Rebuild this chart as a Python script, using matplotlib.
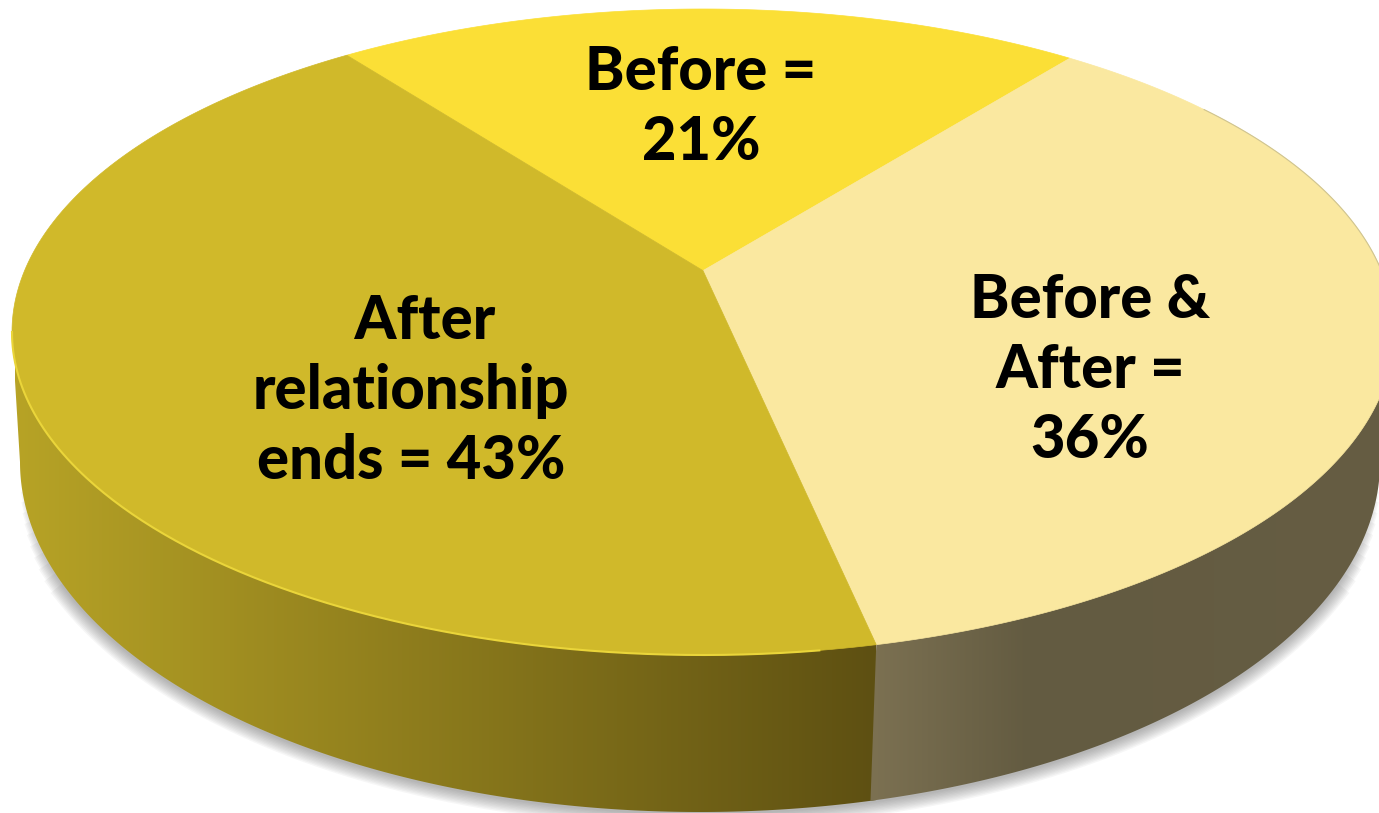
# plot.py
# 3D-looking pie chart, drawn on pixel-sized axes

import numpy as np
import matplotlib
matplotlib.use('Agg')
import matplotlib.pyplot as plt
from matplotlib.colors import LinearSegmentedColormap
from matplotlib.patches import Polygon

# Data
shares = [21, 36, 43]
labels = ['Before =\n21%', 'Before &\nAfter =\n36%', '  After\nrelationship\nends = 43%']
slice_colors = ['#FBDF36', '#FAE8A0', '#D0B92A']

W, H = 1379, 813
START = -37.2  # degrees clockwise from top
TILT = 0.19
TOP = dict(cx=703, cy=332, rx=691, ry=323)
LOW = dict(cx=700, cy=462, rx=680, ry=350)
label_pos = [(701, 107), (1090, 370), (411, 391)]


def project(deg, r, e):
    # unit disc -> ellipse, with the perspective shift of the centre
    t = np.radians(deg)
    u = r * np.sin(t)
    v = r * np.cos(t)
    d = 1 + TILT * v
    x = e['cx'] + e['rx'] * np.sqrt(1 - TILT ** 2) * u / d
    y = e['cy'] - e['ry'] * (v + TILT) / d
    return np.column_stack([x, y])


def gradient_side(ax, poly, x0, x1, stops):
    cmap = LinearSegmentedColormap.from_list('side', stops)
    grad = np.linspace(0, 1, 256).reshape(1, -1)
    im = ax.imshow(grad, cmap=cmap, extent=[x0, x1, H, 0], aspect='auto', zorder=2)
    patch = Polygon(poly, closed=True, transform=ax.transData, fc='none', ec='none')
    ax.add_patch(patch)
    im.set_clip_path(patch)


fig = plt.figure(figsize=(W / 100, H / 100), dpi=100)
ax = fig.add_axes([0, 0, 1, 1])

edges = START + np.cumsum([0] + shares) * 3.6
seam = edges[2]
left_deg = 270 - np.degrees(np.arcsin(TILT))
right_deg = 90 + np.degrees(np.arcsin(TILT))

# Shadow under the side wall, wider strokes stop earlier so the ends fade out
for lw in np.arange(2, 22, 2):
    trim = 3 + lw * 0.9
    low_arc = project(np.linspace(right_deg + trim, left_deg - trim, 300), 1, LOW)
    ax.plot(low_arc[:, 0], low_arc[:, 1] + 1, color='#555555', alpha=0.05, lw=lw, zorder=1)

# Side wall, two visible parts (the right one is painted over the left at the seam)
top_left = project(np.array([left_deg]), 1, TOP)
top_right = project(np.array([right_deg]), 1, TOP)
top_seam = project(np.array([seam]), 1, TOP)
left_arc = project(np.linspace(seam - 1, left_deg, 200), 1, LOW)
right_arc = project(np.linspace(right_deg, seam, 200), 1, LOW)
left_poly = np.vstack([left_arc, top_left, top_seam + [4, 0]])
right_poly = np.vstack([top_right, right_arc, top_seam])
seam_x = right_arc[-1, 0]
gradient_side(ax, left_poly, 15, seam_x + 5, ['#B7A326', '#5E5012'])
gradient_side(ax, right_poly, seam_x, 1400,
              [(0, '#7C7152'), (0.3, '#635B41'), (1, '#665D43')])

# Top of the pie
for i, c in enumerate(slice_colors):
    arc = project(np.linspace(edges[i], edges[i + 1], 200), 1, TOP)
    apex = project(np.array([0.0]), 0, TOP)
    ax.add_patch(Polygon(np.vstack([apex, arc]), closed=True, fc=c, ec=c, lw=0.5, zorder=3))

# Light rim on the front of the darker slice, thin grey edge on the pale one
rim = project(np.linspace(seam + 4, left_deg, 200), 1, TOP)
ax.plot(rim[:, 0], rim[:, 1], color='#EAD53A', lw=1.5, zorder=4)
rim2 = project(np.linspace(55, right_deg - 4, 100), 1, TOP)
ax.plot(rim2[:, 0], rim2[:, 1], color='#CFC491', lw=0.8, zorder=4)

# Labels
for pos, txt in zip(label_pos, labels):
    ax.text(pos[0], pos[1], txt, ha='center', va='center', multialignment='center',
            fontsize=43, family='Lato', fontweight='black', color='black',
            linespacing=1.31, zorder=5)

ax.set_xlim(0, W)
ax.set_ylim(H, 0)
ax.axis('off')

fig.savefig('out.png', dpi=100)
plt.close(fig)
